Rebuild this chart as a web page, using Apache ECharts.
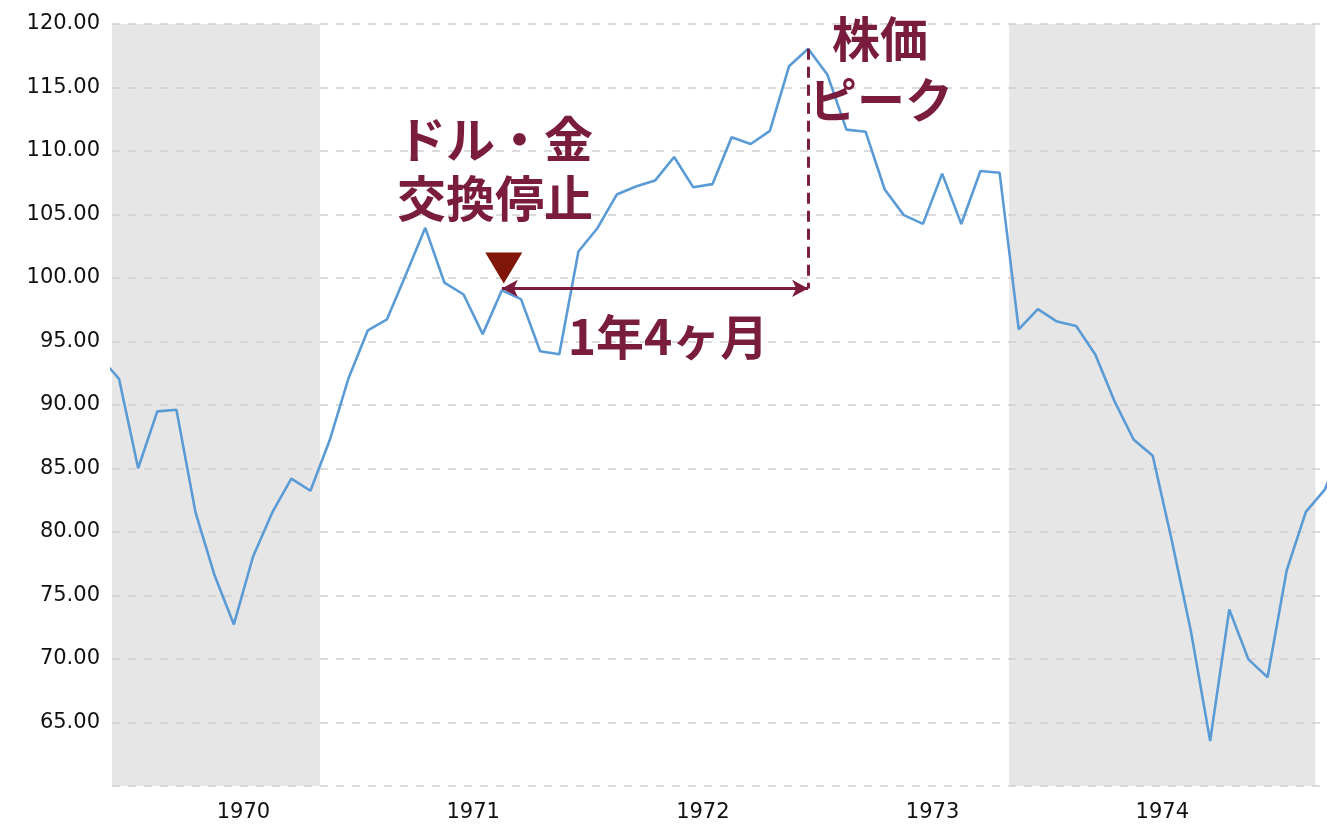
<!DOCTYPE html>
<html><head><meta charset="utf-8">
<script src="https://cdn.jsdelivr.net/npm/echarts@6/dist/echarts.min.js"></script>
<style>html,body{margin:0;padding:0;background:#fff}#c{width:1344px;height:830px}</style>
</head><body><div id="c"></div>
<script>
// Monthly closes (S&P 500), Nov 1969 .. Apr 1975
const firstMonth = [1969, 11];
const sp500 = [
  93.81, 92.06,
  85.02, 89.50, 89.63, 81.52, 76.55, 72.72, 78.05, 81.52, 84.21, 83.25, 87.20, 92.15,
  95.88, 96.75, 100.31, 103.95, 99.63, 98.70, 95.58, 99.03, 98.34, 94.23, 93.99, 102.09,
  103.94, 106.57, 107.20, 107.67, 109.53, 107.14, 107.39, 111.09, 110.55, 111.58, 116.67, 118.05,
  116.03, 111.68, 111.52, 106.97, 104.95, 104.26, 108.22, 104.25, 108.43, 108.29, 95.96, 97.55,
  96.57, 96.22, 93.98, 90.31, 87.28, 86.00, 79.31, 72.15, 63.54, 73.90, 69.97, 68.56,
  76.98, 81.59, 83.36, 87.30
];
const yearLabels = ['1970', '1971', '1972', '1973', '1974'];
const recessions = [['1969-12', '1970-11'], ['1973-11', '1975-03']];
const shockMonth = '1971-08';
const peakMonth = '1972-12';
const yMin = 60, yMax = 120, yStep = 5;
const xMin = -1.366, xMax = 62.0;

const idx = s => { const [y, m] = s.split('-').map(Number); return (y - 1970) * 12 + (m - 1); };
const startIdx = (firstMonth[0] - 1970) * 12 + (firstMonth[1] - 1);
const seriesData = sp500.map((v, i) => [startIdx + i, v]);
const valueAt = s => sp500[idx(s) - startIdx];
const yearCenters = yearLabels.map(y => (Number(y) - 1970) * 12 + 5.5);

const maroon = '#7a1c3d';
const chart = echarts.init(document.getElementById('c'), null, { renderer: 'canvas' });
const shockX = idx(shockMonth), peakX = idx(peakMonth);
const arrowY = valueAt(shockMonth) + 0.15;

chart.setOption({
  animation: false,
  grid: { left: 112, right: 19, top: 24, bottom: 44 },
  xAxis: {
    type: 'value', min: xMin, max: xMax,
    axisLine: { show: false }, axisTick: { show: false }, splitLine: { show: false },
    axisLabel: {
      customValues: yearCenters,
      formatter: v => { const i = yearCenters.findIndex(c => Math.abs(c - v) < 0.01); return i >= 0 ? yearLabels[i] : ''; },
      fontFamily: 'DejaVu Sans', fontSize: 21, color: '#111', margin: 16
    }
  },
  yAxis: {
    type: 'value', min: yMin, max: yMax, interval: yStep, z: 1.5,
    axisLine: { show: false }, axisTick: { show: false },
    splitLine: { show: true, lineStyle: { color: '#cfcfcf', width: 1.5, type: [8, 8] } },
    axisLabel: {
      formatter: v => v === yMin ? '' : v.toFixed(2),
      fontFamily: 'DejaVu Sans', fontSize: 21, color: '#111', margin: 12
    }
  },
  series: [
    {
      type: 'line', data: [], z: 1, silent: true,
      markArea: {
        silent: true,
        itemStyle: { color: '#e6e6e6' },
        data: recessions.map(([a, b]) => [{ xAxis: Math.max(xMin, idx(a) - 0.5) }, { xAxis: Math.min(xMax, idx(b) - 0.5) }])
      }
    },
    {
      type: 'line', data: seriesData, z: 3, symbol: 'none', silent: true,
      lineStyle: { color: '#5b9bd5', width: 2.6 },
      markLine: {
        silent: true, animation: false,
        label: { show: false },
        symbol: ['arrow', 'arrow'], symbolSize: [13, 16],
        lineStyle: { color: maroon, width: 3, type: 'solid' },
        data: [
          [{ coord: [shockX, arrowY] }, { coord: [peakX, arrowY] }],
          [{ coord: [peakX, valueAt(peakMonth)], symbol: 'none', lineStyle: { color: maroon, width: 3, type: [11, 7] } },
           { coord: [peakX, arrowY], symbol: 'none' }]
        ]
      },
      markPoint: {
        silent: true, animation: false,
        data: [{
          coord: [shockX + 0.1, valueAt(shockMonth) + 1.75],
          symbol: 'triangle', symbolRotate: 180, symbolSize: [37, 31],
          itemStyle: { color: '#7f1609' }, label: { show: false }
        }]
      }
    }
  ],
  graphic: [
    ['ドル・金', 495, 139, 49], ['交換停止', 495, 198, 49],
    ['株価', 880, 39, 48], ['ピーク', 881, 100, 48],
    ['1年4ヶ月', 668, 337, 48]
  ].map(([t, x, y, fs]) => ({
    type: 'text', z: 10, silent: true,
    style: {
      text: t, x: x, y: y, fill: maroon,
      font: 'bold ' + fs + 'px "Noto Sans CJK JP"',
      textAlign: 'center', textVerticalAlign: 'middle', align: 'center', verticalAlign: 'middle'
    }
  }))
});
</script>
</body></html>
